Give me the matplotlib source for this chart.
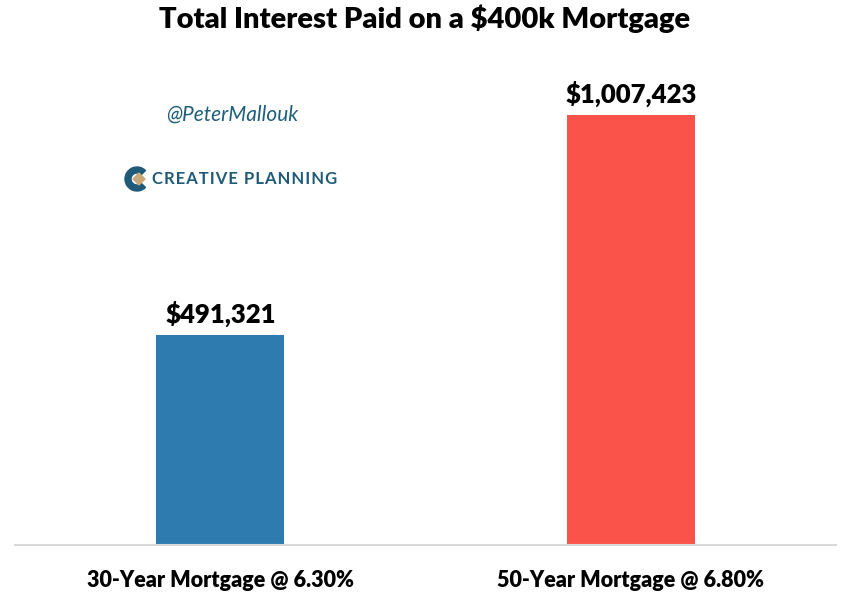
import matplotlib.pyplot as plt
from matplotlib.patches import Wedge, Polygon
from matplotlib.transforms import IdentityTransform

# data
categories = ['30-Year Mortgage @ 6.30%', '50-Year Mortgage @ 6.80%']
interest_paid = [491321, 1007423]
bar_colors = ['#2E7BB0', '#FA5349']

plt.rcParams['font.family'] = ['Lato', 'DejaVu Sans']

fig = plt.figure(figsize=(8.49, 5.99), dpi=100)
ax = fig.add_axes([15 / 849, 54 / 599, 821 / 849, 470 / 599])

x = range(len(categories))
ax.bar(x, interest_paid, width=0.3125, color=bar_colors, zorder=2)
ax.set_xlim(-0.5, 1.5)
ax.set_ylim(0, 1.1e6)

for xi, v in zip(x, interest_paid):
    ax.text(xi, v + 0.018e6, f'${v:,.0f}', ha='center', va='bottom',
            fontsize=18.5, fontweight='heavy', color='black')

ax.set_xticks(list(x))
ax.set_xticklabels(categories, fontsize=15.5, fontweight='heavy')
ax.tick_params(axis='x', length=0, pad=18)
ax.set_yticks([])
for s in ['top', 'right', 'left']:
    ax.spines[s].set_visible(False)
ax.spines['bottom'].set_color('#D9D9D9')
ax.spines['bottom'].set_linewidth(1.5)

fig.text(0.5, 1 - 19 / 599, 'Total Interest Paid on a $400k Mortgage', ha='center',
         va='center', fontsize=21, fontweight='heavy')

# watermark / logo
fig.text(232 / 849, 1 - 115 / 599, '@PeterMallouk', ha='center', va='center',
         fontsize=15, style='italic', color='#1F5F7A')
fig.text(152 / 849, 1 - 179 / 599, '\u200a'.join('CREATIVE PLANNING'), ha='left',
         va='center', fontsize=12, fontweight='bold', color='#1F5A78')
fig.add_artist(Wedge((137, 420), 12, 45, 315, width=6, color='#1F5A78',
                     transform=IdentityTransform()))
fig.add_artist(Polygon([(133, 420), (139, 426), (145, 420), (139, 414)], closed=True,
                       color='#C8A97A', transform=IdentityTransform()))

fig.savefig('out.png', dpi=100)
